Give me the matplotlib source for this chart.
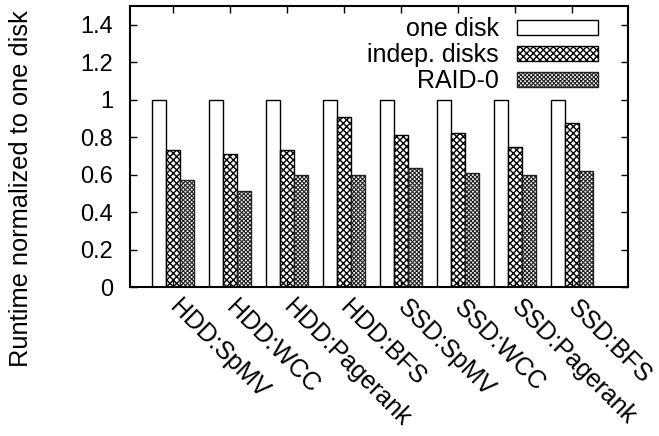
import matplotlib
matplotlib.use("Agg")
import matplotlib.pyplot as plt
import numpy as np

categories = ["HDD:SpMV", "HDD:WCC", "HDD:Pagerank", "HDD:BFS",
              "SSD:SpMV", "SSD:WCC", "SSD:Pagerank", "SSD:BFS"]
one_disk = [1.0, 1.0, 1.0, 1.0, 1.0, 1.0, 1.0, 1.0]
indep_disks = [0.73, 0.71, 0.73, 0.91, 0.81, 0.82, 0.75, 0.875]
raid0 = [0.57, 0.51, 0.60, 0.60, 0.635, 0.61, 0.60, 0.62]
series_names = ["one disk", "indep. disks", "RAID-0"]
yticks = [0, 0.2, 0.4, 0.6, 0.8, 1, 1.2, 1.4]
ytick_labels = ["0", "0.2", "0.4", "0.6", "0.8", "1", "1.2", "1.4"]

plt.rcParams['font.family'] = ['Liberation Sans', 'DejaVu Sans']
plt.rcParams['hatch.linewidth'] = 1.0
FS = 18

fig = plt.figure(figsize=(6.59, 4.36), dpi=100)
ax = fig.add_axes([130/659, 1-287/436, 498/659, 281/436])

x = np.arange(len(categories))
w = 0.246
b1 = ax.bar(x - w, one_disk, w, facecolor='white', edgecolor='black', linewidth=1.0, label=series_names[0])
b2 = ax.bar(x, indep_disks, w, facecolor='white', edgecolor='black', linewidth=1.0, hatch='xxxxx', label=series_names[1])
b3 = ax.bar(x + w, raid0, w, facecolor='white', edgecolor='#222222', linewidth=1.0, hatch='xxxxxxxx', label=series_names[2])
for p in b3:
    try:
        p.set_hatch_linewidth(0.8)
    except Exception:
        pass

ax.set_xlim(-0.755, 7.98)
ax.set_ylim(0, 1.5)
ax.set_yticks(yticks)
ax.set_yticklabels(ytick_labels, fontsize=17)
ax.set_xticks(x)
ax.set_xticklabels(categories, fontsize=FS, rotation=-45, ha='left', va='center',
                   rotation_mode='anchor')
ax.tick_params(axis='both', direction='in', length=5, width=1.0, top=True, right=True)
ax.tick_params(axis='y', pad=12)
ax.tick_params(axis='x', pad=12)
for s in ax.spines.values():
    s.set_linewidth(1.5)

ax.set_ylabel("Runtime normalized to one disk", fontsize=18.3)
ax.yaxis.set_label_coords(-0.195, 0.35)

leg = ax.legend(loc='upper right', bbox_to_anchor=(0.94, 0.96), frameon=False,
                fontsize=FS, markerfirst=False, handlelength=3.25, handleheight=0.55,
                labelspacing=0.08, handletextpad=0.72, borderpad=0.0, borderaxespad=0.0)
for h in leg.legend_handles[2:]:
    try:
        h.set_hatch_linewidth(0.8)
    except Exception:
        pass

fig.savefig("out.png", dpi=100)
